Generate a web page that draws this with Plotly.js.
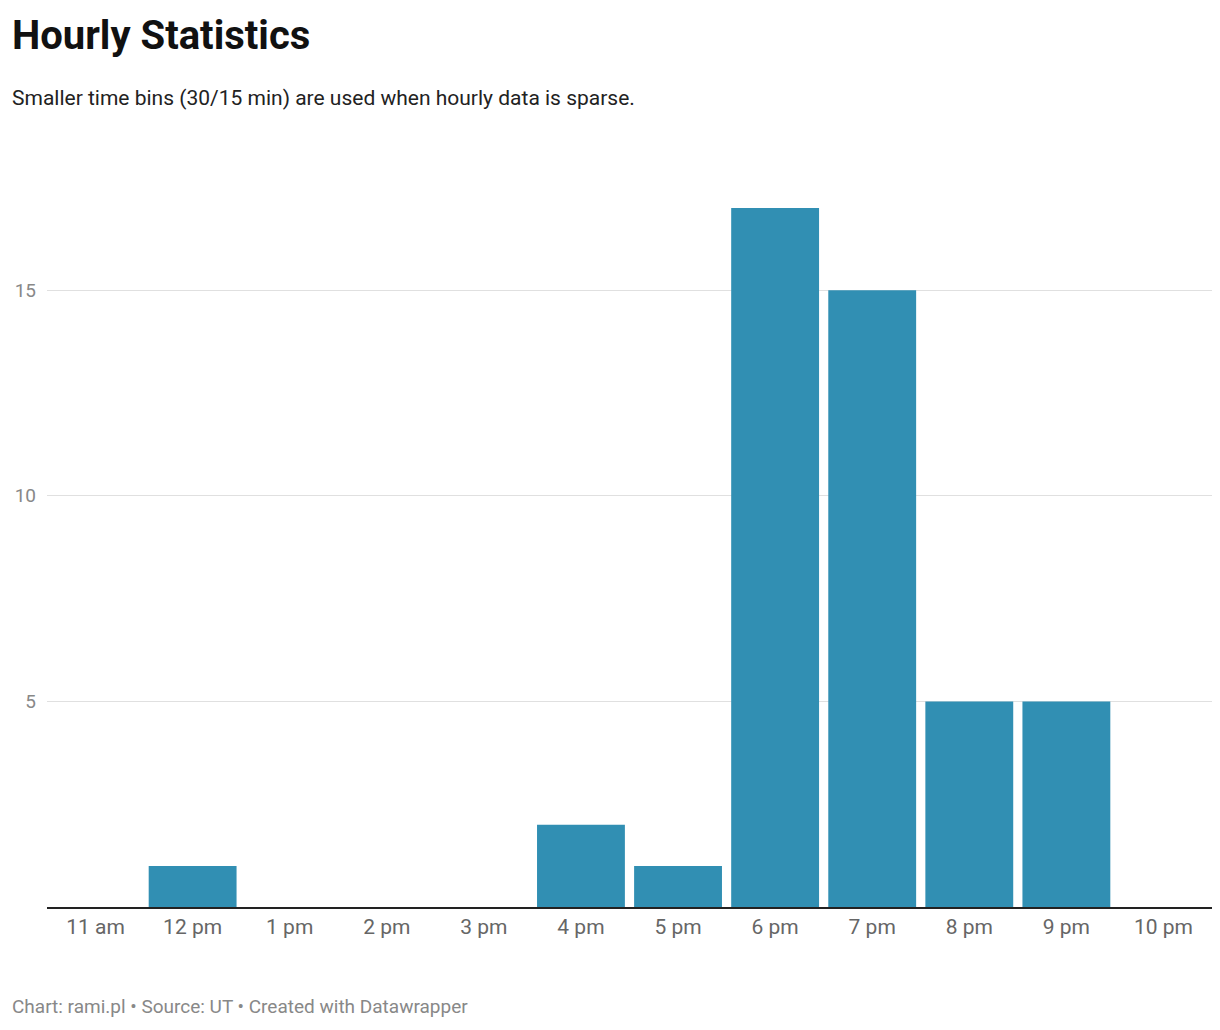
<!DOCTYPE html>
<html>
<head>
<script src="https://cdn.plot.ly/plotly-3.0.1.min.js"></script>
<style>body{margin:0;background:#fff}</style>
</head>
<body>
<div id="plot" style="width:1220px;height:1030px"></div>
<script>
let hours = ['11 am','12 pm','1 pm','2 pm','3 pm','4 pm','5 pm','6 pm','7 pm','8 pm','9 pm','10 pm']
let counts = [0, 1, 0, 0, 0, 2, 1, 17, 15, 5, 5, 0]
let y_ticks = [5, 10, 15]

let trace = {
  x: hours,
  y: counts,
  type: 'bar',
  marker: {color: '#318fb3'},
  hoverinfo: 'x+y'
}

let layout = {
  width: 1220,
  height: 1030,
  margin: {l: 47, r: 8, t: 175, b: 123},
  paper_bgcolor: '#fff',
  plot_bgcolor: '#fff',
  bargap: 0.095,
  font: {family: 'Roboto, sans-serif', color: '#666'},
  xaxis: {
    tickfont: {size: 21, color: '#666'},
    showline: true, linecolor: '#222', linewidth: 1.5,
    ticks: '', showgrid: false, fixedrange: true
  },
  yaxis: {
    range: [0, 17.8],
    tickvals: y_ticks,
    tickfont: {size: 19, color: '#888'},
    showgrid: true, gridcolor: '#e0e0e0', gridwidth: 1,
    zeroline: false, ticks: '', ticklabelstandoff: 10
  },
  annotations: [
    {text: '<b>Hourly Statistics</b>', xref: 'paper', yref: 'paper', x: 0, y: 1, xanchor: 'left', yanchor: 'top',
     xshift: -37, yshift: 165, showarrow: false, font: {size: 40, color: '#111', family: 'Roboto'}},
    {text: 'Smaller time bins (30/15 min) are used when hourly data is sparse.', xref: 'paper', yref: 'paper',
     x: 0, y: 1, xanchor: 'left', yanchor: 'top', xshift: -37, yshift: 91, showarrow: false,
     font: {size: 21, color: '#222', family: 'Roboto'}},
    {text: 'Chart: rami.pl • Source: UT • Created with Datawrapper', xref: 'paper', yref: 'paper',
     x: 0, y: 0, xanchor: 'left', yanchor: 'top', xshift: -37, yshift: -86, showarrow: false,
     font: {size: 19, color: '#888', family: 'Roboto'}}
  ]
}

Plotly.newPlot(document.getElementById('plot'), [trace], layout, {displayModeBar: false})
</script>
</body>
</html>
